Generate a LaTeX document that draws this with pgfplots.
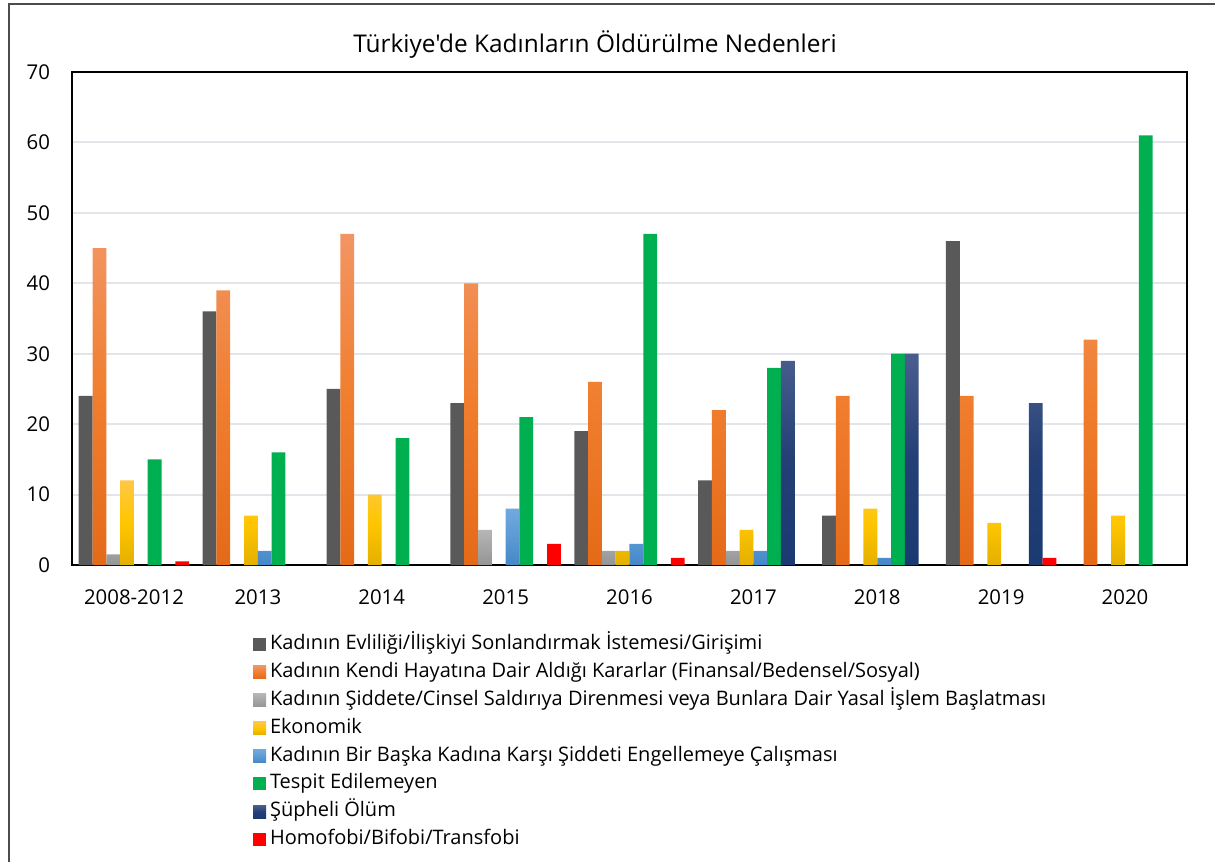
\documentclass[border=0pt]{standalone}
\usepackage{fontspec}
\setmainfont{Open Sans}
\newfontfamily\titlefont[Ligatures=ResetAll]{Open Sans}
\usepackage{pgfplots}
\pgfplotsset{compat=1.18}
\definecolor{cA}{HTML}{595959}
\definecolor{cB}{HTML}{F07E2E}
\definecolor{cBt}{HTML}{F29563}
\definecolor{cBb}{HTML}{E46A18}
\definecolor{cC}{HTML}{A5A5A5}
\definecolor{cCt}{HTML}{B6B6B6}
\definecolor{cCb}{HTML}{959595}
\definecolor{cD}{HTML}{FFC600}
\definecolor{cDt}{HTML}{FFC745}
\definecolor{cDb}{HTML}{E4B000}
\definecolor{cE}{HTML}{5B9BD5}
\definecolor{cEt}{HTML}{72A9DE}
\definecolor{cEb}{HTML}{4588C8}
\definecolor{cF}{HTML}{00B050}
\definecolor{cG}{HTML}{233F76}
\definecolor{cGt}{HTML}{4A5E8E}
\definecolor{cGb}{HTML}{1B3A72}
\definecolor{cH}{HTML}{FF0000}
\definecolor{gridc}{HTML}{E2E6EB}
\begin{document}
\begin{tikzpicture}
\path[use as bounding box] (0,0) rectangle (607.5pt,-431pt);
\draw[color=black!70, line width=1pt] (4.5pt,-431pt) -- (4.5pt,-2pt) -- (607.5pt,-2pt);
\node[font=\titlefont\fontsize{12.2}{14}\selectfont, anchor=center] at (297.5pt,-22.5pt) {Türkiye'de Kadınların Öldürülme Nedenleri};
\begin{axis}[
  at={(36pt,-36pt)}, anchor=north west,
  width=557.5pt, height=246.5pt, scale only axis,
  ybar=0pt, bar width=6.9pt,
  xmin=-0.5, xmax=8.5, ymin=0, ymax=70,
  ytick={0,10,...,70},
  xtick={0,...,8},
  xticklabels={2008-2012,2013,2014,2015,2016,2017,2018,2019,2020},
  major tick length=0pt,
  ymajorgrids, grid style={color=gridc, line width=1pt},
  axis line style={line width=0.8pt, black},
  tick label style={font=\fontsize{10.2}{12}\selectfont},
  /pgf/number format/assume math mode=true,
  yticklabel style={xshift=-7.5pt},
  xticklabel style={yshift=-9pt},
  legend style={at={(0.162,-0.138)}, anchor=north west, draw=none, inner sep=0pt,
    font=\fontsize{10}{11}\selectfont, row sep=2.95pt,
    nodes={inner ysep=1pt, text height=7pt, text depth=2pt}},
  legend cell align=left,
  legend image code/.code={\path[#1, draw=none] (0pt,-3.25pt) rectangle (6.5pt,3.25pt);},
]
\addplot[fill=cA, draw=none] coordinates {(0,24) (1,36) (2,25) (3,23) (4,19) (5,12) (6,7) (7,46)};
\addlegendentry{Kadının Evliliği/İlişkiyi Sonlandırmak İstemesi/Girişimi}
\addplot[draw=none, top color=cBt, bottom color=cBb, middle color=cB] coordinates {(0,45) (1,39) (2,47) (3,40) (4,26) (5,22) (6,24) (7,24) (8,32)};
\addlegendentry{Kadının Kendi Hayatına Dair Aldığı Kararlar (Finansal/Bedensel/Sosyal)}
\addplot[draw=none, top color=cCt, bottom color=cCb, middle color=cC] coordinates {(0,1.5) (3,5) (4,2) (5,2)};
\addlegendentry{Kadının Şiddete/Cinsel Saldırıya Direnmesi veya Bunlara Dair Yasal İşlem Başlatması}
\addplot[draw=none, top color=cDt, bottom color=cDb, middle color=cD] coordinates {(0,12) (1,7) (2,10) (4,2) (5,5) (6,8) (7,6) (8,7)};
\addlegendentry{Ekonomik}
\addplot[draw=none, top color=cEt, bottom color=cEb, middle color=cE] coordinates {(1,2) (3,8) (4,3) (5,2) (6,1)};
\addlegendentry{Kadının Bir Başka Kadına Karşı Şiddeti Engellemeye Çalışması}
\addplot[fill=cF, draw=none] coordinates {(0,15) (1,16) (2,18) (3,21) (4,47) (5,28) (6,30) (8,61)};
\addlegendentry{Tespit Edilemeyen}
\addplot[draw=none, top color=cGt, bottom color=cGb, middle color=cG] coordinates {(5,29) (6,30) (7,23)};
\addlegendentry{Şüpheli Ölüm}
\addplot[fill=cH, draw=none] coordinates {(0,0.5) (3,3) (4,1) (7,1)};
\addlegendentry{Homofobi/Bifobi/Transfobi}
\end{axis}
\end{tikzpicture}
\end{document}
